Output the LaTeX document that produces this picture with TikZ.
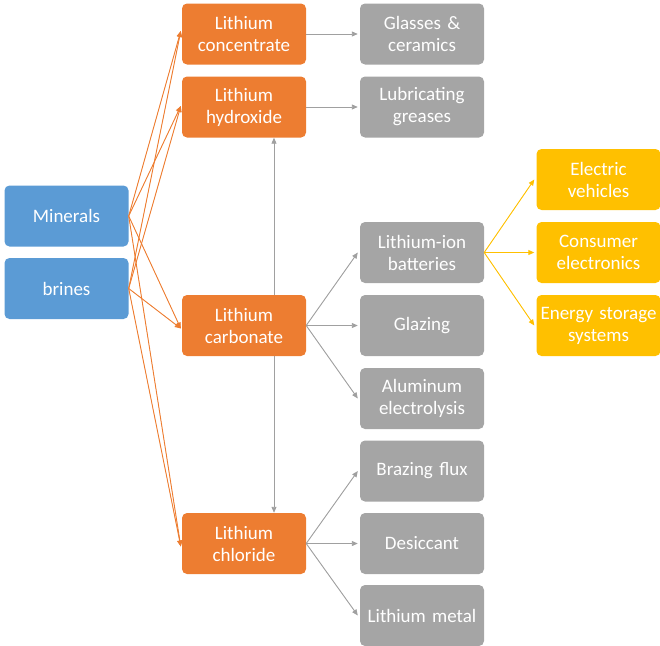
\documentclass[tikz,border=0pt]{standalone}
\usepackage{fontspec}
\setmainfont{Carlito}
\usetikzlibrary{arrows.meta}
\definecolor{cblue}{HTML}{5B9BD5}
\definecolor{corange}{HTML}{ED7D31}
\definecolor{cgray}{HTML}{A5A5A5}
\definecolor{cyellow}{HTML}{FFC000}
\definecolor{cgrayline}{HTML}{A0A0A0}
\tikzset{
  box/.style={rectangle, rounded corners=5pt, minimum width=124pt, minimum height=61pt,
    text width=124pt, align=center, inner sep=0pt, text=white,
    font=\fontsize{19}{22}\selectfont},
  bluebox/.style={box, fill=cblue},
  orbox/.style={box, fill=corange},
  grbox/.style={box, fill=cgray},
  yebox/.style={box, fill=cyellow},
  tip/.style={-{Triangle[length=6pt,width=5pt]}},
  orline/.style={tip, draw=corange, fill=corange, line width=0.9pt},
  grline/.style={tip, draw=cgrayline, fill=cgrayline, line width=0.9pt},
  yeline/.style={tip, draw=cyellow, fill=cyellow, line width=0.9pt},
}
\begin{document}
\begin{tikzpicture}[x=1pt,y=-1pt]
\useasboundingbox (0,0) rectangle (660,645);
% blue
\node[bluebox] (min) at (66.5,216) {Minerals};
\node[bluebox] (bri) at (66.5,288.5) {brines};
% orange
\node[orbox] (con) at (244,34) {Lithium\\concentrate};
\node[orbox] (hyd) at (244,107) {Lithium\\hydroxide};
\node[orbox] (car) at (244,325.5) {Lithium\\carbonate};
\node[orbox] (chl) at (244,543.5) {Lithium\\chloride};
% gray
\node[grbox] (gla) at (422,34) {Glasses \&\\ceramics};
\node[grbox] (lub) at (422,107) {Lubricating\\greases};
\node[grbox] (lib) at (422,252.5) {Lithium-ion\\batteries};
\node[grbox] (glz) at (422,325.5) {Glazing};
\node[grbox] (alu) at (422,398.5) {Aluminum\\electrolysis};
\node[grbox] (bra) at (422,471) {Brazing flux};
\node[grbox] (des) at (422,543.5) {Desiccant};
\node[grbox] (met) at (422,615.5) {Lithium metal};
% yellow
\node[yebox] (ev) at (598.5,179.5) {Electric\\vehicles};
\node[yebox] (ce) at (598.5,252.5) {Consumer\\electronics};
\node[yebox] (es) at (598.5,325.5) {Energy storage\\systems};
% orange connectors
\foreach \s in {min,bri}{
  \draw[orline] (\s.east) -- ([yshift=3pt,xshift=-1pt]con.west);
  \draw[orline] (\s.east) -- ([yshift=1pt,xshift=-1pt]hyd.west);
  \draw[orline] (\s.east) -- ([yshift=-3pt,xshift=-1pt]car.west);
  \draw[orline] (\s.east) -- ([yshift=-3pt,xshift=-1pt]chl.west);
}
% gray connectors
\draw[grline] (con.east) -- ([xshift=-2pt]gla.west);
\draw[grline] (hyd.east) -- ([xshift=-2pt]lub.west);
\draw[grline] ([xshift=30pt]car.north) -- ([xshift=30pt]hyd.south);
\draw[grline] ([xshift=30pt]car.south) -- ([xshift=30pt]chl.north);
\draw[grline] (car.east) -- ([xshift=-2pt]lib.west);
\draw[grline] (car.east) -- ([xshift=-2pt]glz.west);
\draw[grline] (car.east) -- ([xshift=-2pt]alu.west);
\draw[grline] (chl.east) -- ([xshift=-2pt]bra.west);
\draw[grline] (chl.east) -- ([xshift=-2pt]des.west);
\draw[grline] (chl.east) -- ([xshift=-2pt]met.west);
% yellow connectors
\draw[yeline] (lib.east) -- ([xshift=-2pt]ev.west);
\draw[yeline] (lib.east) -- ([xshift=-2pt]ce.west);
\draw[yeline] (lib.east) -- ([xshift=-2pt]es.west);
\end{tikzpicture}
\end{document}
